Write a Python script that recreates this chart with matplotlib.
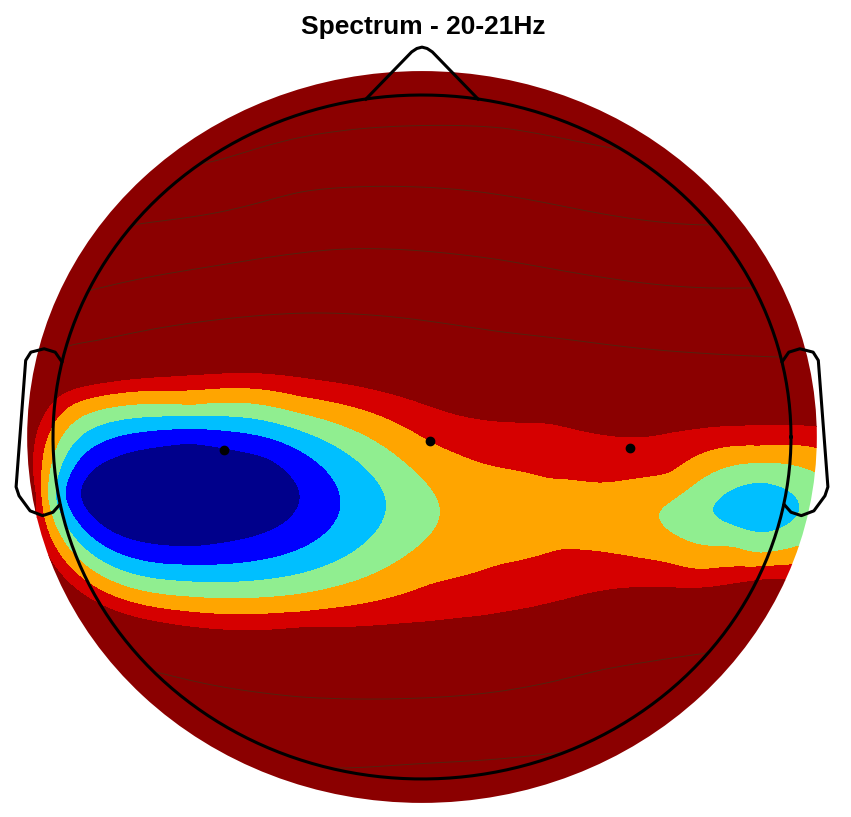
import numpy as np
import matplotlib.pyplot as plt
from matplotlib.patches import Circle
from matplotlib.colors import ListedColormap, BoundaryNorm

# electrodes (head units, head radius 0.5)
chan_names = ['C3', 'Cz', 'C4']
chan_x = [-0.268, 0.011, 0.282]
chan_y = [-0.019, -0.006, -0.016]

# field samples (x, y, value); values 1..6 are the colour-band edges
field_x = [-0.314, 0.444, 0.173,
           -0.463, -0.165, -0.314, -0.314, -0.209, -0.420, -0.209, -0.420,
           -0.484, -0.111, -0.314, -0.314,
           -0.497, -0.050, -0.314, -0.314, 0.393, 0.458, 0.458, 0.512,
           -0.508, 0.024, -0.314, -0.314, 0.322, 0.458, 0.458, 0.421,
           -0.518, -0.314, -0.314, -0.165, -0.165, 0.011, 0.083, 0.173, 0.241, 0.336, 0.390, 0.458,
           0.011, 0.106, 0.187, 0.241, 0.332, 0.377, 0.458,
           -0.522, -0.491, -0.436, -0.314, -0.165, -0.012, 0.173, 0.336, 0.458,
           -0.314, -0.165, 0.011, 0.079, 0.146, 0.194, 0.241, 0.377, 0.467,
           -0.436, -0.165, 0.106, 0.485,
           -0.436, -0.165, 0.106, 0.444,
           -0.392, -0.165, 0.106, 0.390,
           -0.287, -0.121, 0.106, 0.272,
           -0.355, -0.165, 0.241, 0.386,
           -0.121, 0.187,
           0.0, 0.0]
field_y = [-0.085, -0.107, -0.099,
           -0.085, -0.085, -0.009, -0.161, -0.031, -0.031, -0.139, -0.139,
           -0.085, -0.085, 0.012, -0.187,
           -0.085, -0.085, 0.032, -0.212, -0.107, -0.066, -0.140, -0.107,
           -0.085, -0.099, 0.047, -0.234, -0.107, -0.037, -0.170, -0.161,
           -0.085, 0.069, -0.256, 0.060, -0.256, -0.006, -0.038, -0.060, -0.066, -0.051, -0.019, -0.012,
           -0.216, -0.187, -0.165, -0.168, -0.184, -0.194, -0.190,
           -0.085, 0.061, 0.079, 0.091, 0.088, 0.054, 0.020, 0.007, 0.018,
           -0.278, -0.279, -0.270, -0.262, -0.250, -0.238, -0.226, -0.221, -0.208,
           0.142, 0.181, 0.154, 0.117,
           0.218, 0.269, 0.259, 0.218,
           0.310, 0.358, 0.354, 0.310,
           0.402, 0.446, 0.452, 0.420,
           -0.345, -0.380, -0.341, -0.316,
           -0.484, -0.461,
           0.534, -0.535]
field_v = [0.0, 2.5, 4.5,
           1, 1, 1, 1, 1, 1, 1, 1,
           2, 2, 2, 2,
           3, 3, 3, 3, 3, 3, 3, 3,
           4, 4, 4, 4, 4, 4, 4, 4,
           5, 5, 5, 5, 5, 5, 5, 5, 5, 5, 5, 5,
           5, 5, 5, 5, 5, 5, 5,
           6, 6, 6, 6, 6, 6, 6, 6, 6,
           6, 6, 6, 6, 6, 6, 6, 6, 6,
           9.5, 9.5, 9.5, 9.5,
           13, 13, 13, 13,
           16.5, 16.5, 16.5, 16.5,
           20, 20, 20, 20,
           9.5, 9.5, 9.5, 9.5,
           13, 13,
           23, 15]

band_edges = [1, 2, 3, 4, 5, 6]
band_colors = ['darkblue', 'blue', 'deepskyblue', 'lightgreen', 'orange', '#d60000', '#8b0000']
line_levels = [9.5, 13, 16.5, 20]

# outline (right ear, mirrored for the left)
ear_x = [0.488, 0.497, 0.512, 0.530, 0.537, 0.550, 0.546, 0.531, 0.514, 0.500, 0.491]
ear_y = [0.110, 0.124, 0.129, 0.124, 0.112, -0.073, -0.086, -0.108, -0.115, -0.110, -0.099]
nose_x = [0.076, 0.014, 0.007, 0.0, -0.007, -0.014, -0.076]
nose_y = [0.494, 0.563, 0.568, 0.570, 0.568, 0.563, 0.494]


def thin_plate(px, py, pv, gx, gy, smooth=1e-4):
    px, py, pv = np.asarray(px), np.asarray(py), np.asarray(pv, dtype=float)
    n = len(px)

    def kern(d):
        with np.errstate(divide='ignore', invalid='ignore'):
            k = d**2 * np.log(d)
        return np.where(d > 0, k, 0.0)

    d = np.hypot(px[:, None] - px[None, :], py[:, None] - py[None, :])
    A = np.zeros((n + 3, n + 3))
    A[:n, :n] = kern(d) + smooth * np.eye(n)
    P = np.column_stack([np.ones(n), px, py])
    A[:n, n:] = P
    A[n:, :n] = P.T
    sol = np.linalg.solve(A, np.concatenate([pv, np.zeros(3)]))
    w, a = sol[:n], sol[n:]
    dg = np.hypot(gx.ravel()[:, None] - px[None, :], gy.ravel()[:, None] - py[None, :])
    z = kern(dg) @ w + a[0] + a[1] * gx.ravel() + a[2] * gy.ravel()
    return z.reshape(gx.shape)


def main():
    head_r = 0.5
    disc_r = 0.535

    g = np.linspace(-0.545, 0.545, 300)
    gx, gy = np.meshgrid(g, g)
    field = thin_plate(field_x, field_y, field_v, gx, gy)

    fig = plt.figure(figsize=(8.51, 8.17), dpi=100)
    ax = fig.add_axes([0, 0, 1, 1])
    ax.set_xlim(-0.5718, 0.5813)
    ax.set_ylim(-0.5556, 0.6389)
    ax.axis('off')

    levels = [field.min() - 1] + band_edges + [field.max() + 1]
    cmap = ListedColormap(band_colors)
    norm = BoundaryNorm(levels, cmap.N)
    cs = ax.contourf(gx, gy, field, levels=levels, cmap=cmap, norm=norm, zorder=1)
    disc = Circle((0, 0), disc_r, transform=ax.transData, fc='none', ec='none')
    ax.add_patch(disc)
    cs.set_clip_path(disc)

    cl = ax.contour(gx, gy, field, levels=line_levels, colors='#4a2a12',
                    linewidths=0.7, alpha=0.85, zorder=2)
    inner = Circle((0, 0), head_r, transform=ax.transData, fc='none', ec='none')
    ax.add_patch(inner)
    cl.set_clip_path(inner)

    # head outline
    t = np.linspace(0, 2 * np.pi, 400)
    ax.plot(head_r * np.cos(t), head_r * np.sin(t), color='black', lw=2.2, zorder=3)
    ax.plot(nose_x, nose_y, color='black', lw=2.2, zorder=3, solid_joinstyle='round')
    ax.plot(ear_x, ear_y, color='black', lw=2.2, zorder=3, solid_joinstyle='round')
    ax.plot([-x for x in ear_x], ear_y, color='black', lw=2.2, zorder=3, solid_joinstyle='round')

    ax.plot(chan_x, chan_y, 'o', color='black', markersize=6, zorder=4)

    fig.text(423 / 851, 1 - 27 / 817, 'Spectrum - 20-21Hz', ha='center', va='center',
             fontsize=19, fontweight='bold', family='Liberation Sans')

    fig.savefig('out.png', dpi=100)


if __name__ == "__main__":
    main()
